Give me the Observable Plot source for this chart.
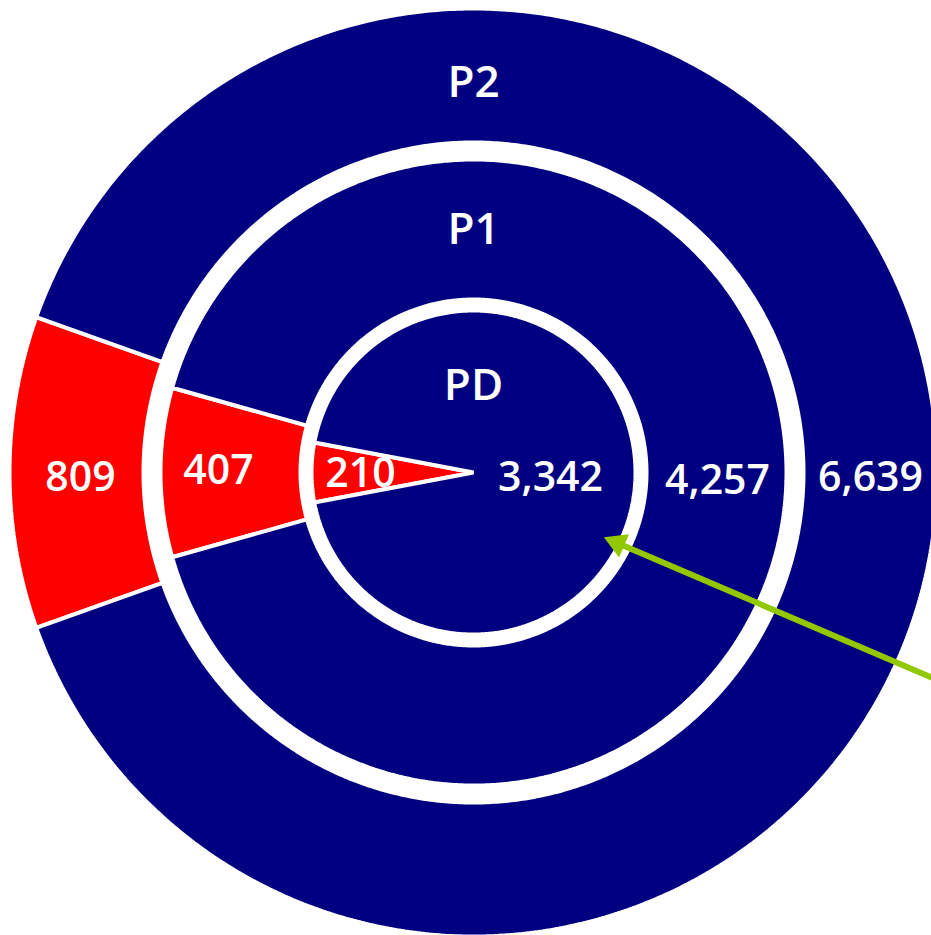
<!DOCTYPE html>
<html>
<head>
<meta charset="utf-8">
<script src="https://cdn.jsdelivr.net/npm/d3@7"></script>
<script src="https://cdn.jsdelivr.net/npm/@observablehq/plot@0.6"></script>
<style>
  html, body { margin: 0; padding: 0; background: #ffffff; }
  #chart svg { display: block; }
</style>
</head>
<body>
<div id="chart"></div>
<script>
// ---- data ----
const rings = ["PD", "P1", "P2"];
const redValues = [210, 407, 809];
const blueValues = [3342, 4257, 6639];
const sliceColors = ["#ff0000", "#000080"];

// ---- layout (pixels from the common centre) ----
const W = 931, H = 935, CX = 473, CY = 472;
const ringRadii = [[0, 162], [173, 313], [330, 464]];
const nameRadius = [87, 243, 390];
const valueRadius = [77, 244, 397];
const valueDy = [-5, -8, -5];
const redLabelRadius = [113, 255, 393];
const redDy = [-1, 2, -5];
const arrowTip = [603.3 - CX, CY - 536.7];
const arrowTail = [965 - CX, CY - 691.5];

// ---- build slice polygons from the values ----
const slicePts = [];
rings.forEach((ring, i) => {
  const vals = [redValues[i], blueValues[i]];
  const redAng = 2 * Math.PI * vals[0] / d3.sum(vals);
  const start = 1.5 * Math.PI - redAng / 2;
  const arcs = d3.pie().sort(null).startAngle(start).endAngle(start + 2 * Math.PI)(vals);
  const [r0, r1] = ringRadii[i];
  arcs.forEach((a, j) => {
    const id = ring + "-" + j;
    const n = Math.max(2, Math.ceil((a.endAngle - a.startAngle) / (Math.PI / 360)));
    for (let k = 0; k <= n; k++) {
      const t = a.startAngle + (a.endAngle - a.startAngle) * k / n;
      slicePts.push({id, color: sliceColors[j], x: r1 * Math.sin(t), y: r1 * Math.cos(t)});
    }
    if (r0 === 0) {
      slicePts.push({id, color: sliceColors[j], x: 0, y: 0});
    } else {
      for (let k = n; k >= 0; k--) {
        const t = a.startAngle + (a.endAngle - a.startAngle) * k / n;
        slicePts.push({id, color: sliceColors[j], x: r0 * Math.sin(t), y: r0 * Math.cos(t)});
      }
    }
  });
});

const fmt = d3.format(",");
const nameLabels = rings.map((r, i) => ({text: r, x: 0, y: nameRadius[i]}));
const valueLabels = rings.map((r, i) => ({text: fmt(blueValues[i]), x: valueRadius[i], y: valueDy[i]}))
  .concat(rings.map((r, i) => ({text: fmt(redValues[i]), x: -redLabelRadius[i], y: redDy[i]})));

// arrow head placement
const pdx = arrowTail[0] - arrowTip[0], pdy = -(arrowTail[1] - arrowTip[1]);
const plen = Math.hypot(pdx, pdy);
const headH = 22, headSide = headH * 2 / Math.sqrt(3);
const headArea = Math.sqrt(3) / 4 * headSide * headSide;
const headR = Math.sqrt(headArea / Math.PI);
const back = headH * 2 / 3;
const headC = [arrowTip[0] + pdx / plen * back, arrowTip[1] - pdy / plen * back];
const headRot = Math.atan2(-pdx, pdy) * 180 / Math.PI;

const FONT = "'Open Sans', 'Noto Sans', sans-serif";

const chart = Plot.plot({
  width: W,
  height: H,
  margin: 0,
  x: {domain: [-CX, W - CX], axis: null},
  y: {domain: [CY - H, CY], axis: null},
  color: {type: "identity"},
  style: {background: "#ffffff", overflow: "hidden"},
  marks: [
    Plot.line(slicePts, {
      x: "x", y: "y", z: "id", fill: "color",
      stroke: "#ffffff", strokeWidth: 4, curve: "linear-closed",
      strokeLinejoin: "miter"
    }),
    Plot.text(nameLabels, {
      x: "x", y: "y", text: "text", fill: "#ffffff",
      fontSize: 44, fontFamily: FONT, fontWeight: 600
    }),
    Plot.text(valueLabels, {
      x: "x", y: "y", text: "text", fill: "#ffffff",
      fontSize: 41, fontFamily: FONT, fontWeight: 600
    }),
    Plot.link([{x1: arrowTail[0], y1: arrowTail[1], x2: headC[0], y2: headC[1]}], {
      x1: "x1", y1: "y1", x2: "x2", y2: "y2",
      stroke: "#92c800", strokeWidth: 6
    }),
    Plot.dot([{x: headC[0], y: headC[1]}], {
      x: "x", y: "y", symbol: "triangle", r: headR,
      fill: "#92c800", stroke: "none", rotate: headRot
    })
  ]
});
document.getElementById("chart").appendChild(chart);
</script>
</body>
</html>
